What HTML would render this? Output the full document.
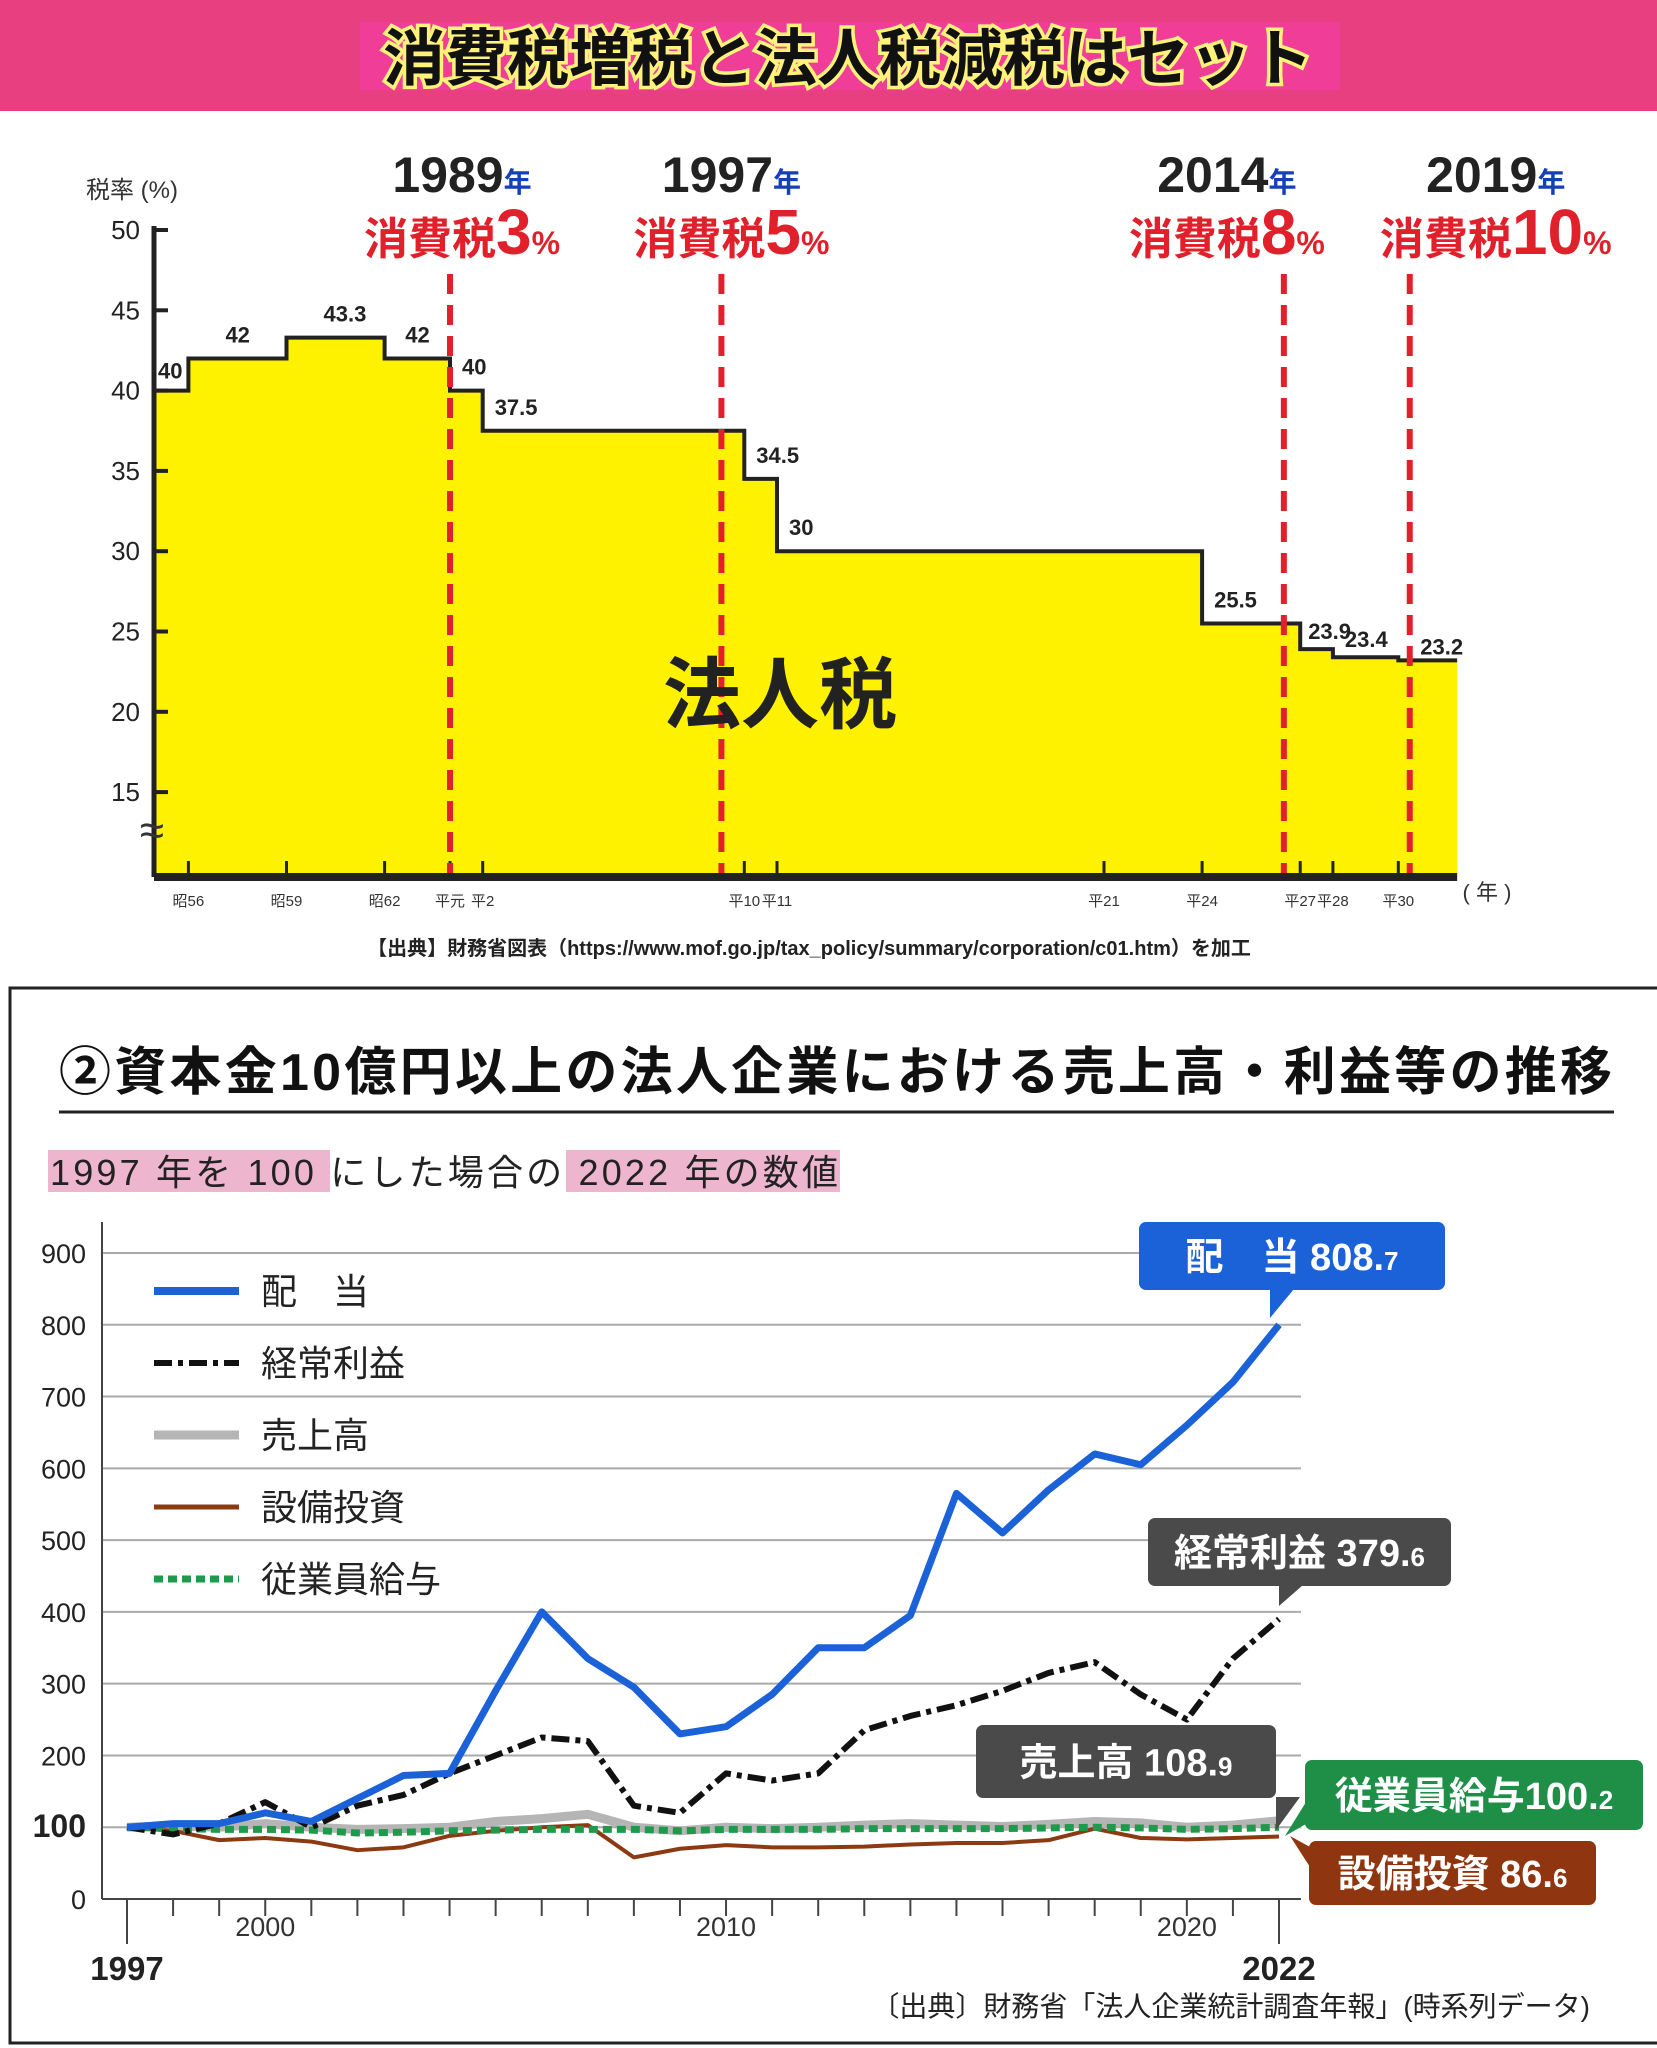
<!DOCTYPE html>
<html><head><meta charset="utf-8"><style>
body{margin:0;background:#fff;}
svg{display:block;font-family:"Liberation Sans","Noto Sans CJK JP",sans-serif;}
</style></head><body>
<svg id="s" width="1657" height="2048" viewBox="0 0 1657 2048">
<rect x="0" y="0" width="1657" height="111" fill="#e83f80"/>
<rect x="360" y="22" width="980" height="68" fill="#f03d97"/>
<text x="848" y="80" text-anchor="middle" font-size="62" font-weight="bold" fill="#111" stroke="#fff27a" stroke-width="7" paint-order="stroke">消費税増税と法人税減税はセット</text>
<g id="topchart"></g>
<text x="809" y="955" text-anchor="middle" font-size="20" font-weight="bold" fill="#222">【出典】財務省図表（https://www.mof.go.jp/tax_policy/summary/corporation/c01.htm）を加工</text>
<rect x="10" y="988" width="1660" height="1055" fill="none" stroke="#222" stroke-width="3"/>
<text x="59" y="1090" font-size="52" font-weight="bold" fill="#111" textLength="1553">②資本金10億円以上の法人企業における売上高・利益等の推移</text>
<line x1="59" y1="1112" x2="1614" y2="1112" stroke="#222" stroke-width="3"/>
<rect x="48" y="1150" width="282" height="42" fill="#eeb5cf"/>
<rect x="566" y="1150" width="274" height="42" fill="#eeb5cf"/>
<text x="50" y="1185" font-size="36" fill="#222" textLength="788">1997 年を 100 にした場合の 2022 年の数値</text>
<g id="botchart"></g>
<text x="1590" y="2016" text-anchor="end" font-size="28" fill="#222">〔出典〕財務省「法人企業統計調査年報」(時系列データ)</text>
</svg>
<script>
// ---- top chart data ----
const stepStarts=[1980,1981,1984,1987,1989,1990,1998,1999,2012,2015,2016,2018];
const stepRates=[40,42,43.3,42,40,37.5,34.5,30,25.5,23.9,23.4,23.2];
const stepEnd=2019.8;
const yTicks=[50,45,40,35,30,25,20,15];
const xTickYears=[1981,1984,1987,1989,1990,1998,1999,2009,2012,2015,2016,2018];
const xTickLabels=["昭56","昭59","昭62","平元","平2","平10","平11","平21","平24","平27","平28","平30"];
const vatYears=[1989,1997.3,2014.5,2018.35];
const vatYearLabels=["1989","1997","2014","2019"];
const vatRates=["3","5","8","10"];
// ---- bottom chart data ----
const years=[1997,1998,1999,2000,2001,2002,2003,2004,2005,2006,2007,2008,2009,2010,2011,2012,2013,2014,2015,2016,2017,2018,2019,2020,2021,2022];
const dividend=[100,105,105,120,108,140,172,175,290,400,335,295,230,240,285,350,350,395,565,510,570,620,605,660,720,800];
const profit=[100,90,105,135,100,130,145,175,200,225,220,130,120,175,165,175,235,255,270,290,315,330,285,250,335,390];
const sales=[100,102,100,105,100,97,98,100,108,112,118,100,95,100,98,100,103,105,103,101,104,108,106,100,103,109];
const capex=[100,95,82,85,80,68,72,88,95,100,103,58,70,75,72,72,73,76,78,78,82,98,85,83,85,87];
const salary=[100,98,97,97,96,92,93,95,96,97,97,97,95,97,97,97,98,98,98,98,99,100,99,97,98,100];
const bTicks=[0,100,200,300,400,500,600,700,800,900];
const NS="http://www.w3.org/2000/svg";
function mk(p,t,a,txt){const e=document.createElementNS(NS,t);for(const k in a)e.setAttribute(k,a[k]);if(txt!==undefined)e.textContent=txt;p.appendChild(e);return e;}
const X=y=>450+(y-1989)*32.7;
const Y=v=>230+(50-v)*16.06;
const topG=document.getElementById('topchart');
const base=877, x0=154, xEnd=X(stepEnd);
let d=`M${x0},${base}`;
stepStarts.forEach((s,i)=>{const e=i<stepStarts.length-1?stepStarts[i+1]:stepEnd;const xs=i==0?x0:X(s);d+=` L${xs},${Y(stepRates[i])} L${X(e)},${Y(stepRates[i])}`;});
d+=` L${xEnd},${base} Z`;
let a=mk(topG,'path',{d:d,fill:'#fff200'});


let ol='';stepStarts.forEach((s,i)=>{const e=i<stepStarts.length-1?stepStarts[i+1]:stepEnd;const xs=i==0?x0:X(s);ol+=(i==0?'M':' L')+`${xs},${Y(stepRates[i])} L${X(e)},${Y(stepRates[i])}`;});
a=mk(topG,'path',{d:ol,fill:'none',stroke:'#222','stroke-width':4});


stepStarts.forEach((s,i)=>{const e=i<stepStarts.length-1?stepStarts[i+1]:stepEnd;const xs=i==0?x0:X(s);
 let lx=i==0?xs+4:(i>=4?xs+12:(xs+X(e))/2-12), ly=Y(stepRates[i])-(i==0?12:16);
 if(i==9){lx=xs+8;ly=Y(stepRates[i])-10;}
 if(i==10){lx=xs+12;ly=Y(stepRates[i])-10;}
 if(i==11){lx=xs+22;ly=Y(stepRates[i])-6;}
 const t=mk(topG,'text',{x:lx,y:ly,'font-size':22,'font-weight':'bold',fill:'#222'},String(stepRates[i]));
 
 });
a=mk(topG,'line',{x1:x0,y1:226,x2:x0,y2:base,stroke:'#222','stroke-width':5});


a=mk(topG,'line',{x1:x0,y1:base,x2:xEnd,y2:base,stroke:'#222','stroke-width':8});


yTicks.forEach(v=>{mk(topG,'line',{x1:x0,y1:Y(v),x2:x0+14,y2:Y(v),stroke:'#222','stroke-width':4});
 const t=mk(topG,'text',{x:140,y:Y(v)+9,'text-anchor':'end','font-size':26,fill:'#222'},String(v));
 
 });
a=mk(topG,'text',{x:132,y:198,'text-anchor':'middle','font-size':24,fill:'#333'},'税率 (%)');


a=mk(topG,'text',{x:152,y:845,'text-anchor':'middle','font-size':44,fill:'#333'},'≈');


xTickYears.forEach((yr,i)=>{mk(topG,'line',{x1:X(yr),y1:base,x2:X(yr),y2:base-16,stroke:'#222','stroke-width':3});
 const t=mk(topG,'text',{x:X(yr),y:906,'text-anchor':'middle','font-size':15,fill:'#333'},xTickLabels[i]);
 
 });
a=mk(topG,'text',{x:1487,y:900,'text-anchor':'middle','font-size':22,fill:'#333'},'( 年 )');


const labelShift=[12,10,-57,86];
vatYears.forEach((yr,i)=>{const x=X(yr);const cx=x+labelShift[i];
 const l=mk(topG,'line',{x1:x,y1:274,x2:x,y2:base-4,stroke:'#e0202a','stroke-width':6,'stroke-dasharray':'20,11'});
 
 
 const g=mk(topG,'text',{x:cx,y:192,'text-anchor':'middle','font-size':50,'font-weight':'bold',fill:'#222'});
 
 
 mk(g,'tspan',{},vatYearLabels[i]);mk(g,'tspan',{'font-size':28,fill:'#1640b8'},'年');
 const h=mk(topG,'text',{x:cx,y:254,'text-anchor':'middle','font-size':44,'font-weight':'bold',fill:'#e0202a'});
 
 
 mk(h,'tspan',{},'消費税');mk(h,'tspan',{'font-size':64},vatRates[i]);mk(h,'tspan',{'font-size':32},'%');});
a=mk(topG,'text',{x:780,y:722,'text-anchor':'middle','font-size':78,'font-weight':'bold',fill:'#222'},'法人税');


// bottom chart
const botG=document.getElementById('botchart');
const BX=y=>127+(y-1997)*46.08;
const BY=v=>1899-v*0.7178;
bTicks.forEach(v=>{if(v>0){const l=mk(botG,'line',{x1:102,y1:BY(v),x2:1301,y2:BY(v),stroke:'#aaa','stroke-width':2});}
 const t=mk(botG,'text',{x:86,y:BY(v)+10,'text-anchor':'end','font-size':v==100?32:27,'font-weight':v==100?'bold':'normal',fill:'#222'},String(v));
 
 });
a=mk(botG,'line',{x1:102,y1:1222,x2:102,y2:1899,stroke:'#444','stroke-width':2});


a=mk(botG,'line',{x1:102,y1:1899,x2:1301,y2:1899,stroke:'#444','stroke-width':2});


years.forEach(y=>{const long=(y==1997||y==2022);mk(botG,'line',{x1:BX(y),y1:1899,x2:BX(y),y2:long?1944:1916,stroke:'#444','stroke-width':2});});
[2000,2010,2020].forEach(y=>{const t=mk(botG,'text',{x:BX(y),y:1936,'text-anchor':'middle','font-size':27,fill:'#333'},String(y));});
[1997,2022].forEach(y=>{const t=mk(botG,'text',{x:BX(y),y:1980,'text-anchor':'middle','font-size':33,'font-weight':'bold',fill:'#222'},String(y));});
function series(vals,st,name){const p=vals.map((v,i)=>(i?'L':'M')+BX(years[i])+','+BY(v)).join(' ');const e=mk(botG,'path',Object.assign({d:p,fill:'none','stroke-linejoin':'round'},st));}
series(sales,{stroke:'#b5b5b5','stroke-width':9},'sales-line');
series(capex,{stroke:'#8b3a12','stroke-width':4},'capex-line');
series(salary,{stroke:'#1f9a4c','stroke-width':7,'stroke-dasharray':'9,5'},'salary-line');
series(profit,{stroke:'#111','stroke-width':6,'stroke-dasharray':'18,6,5,6'},'profit-line');
series(dividend,{stroke:'#1b62d8','stroke-width':7},'dividend-line');
const legS=[{stroke:'#1b62d8','stroke-width':8},{stroke:'#111','stroke-width':6,'stroke-dasharray':'18,6,5,6'},{stroke:'#b5b5b5','stroke-width':9},{stroke:'#8b3a12','stroke-width':5},{stroke:'#1f9a4c','stroke-width':7,'stroke-dasharray':'9,5'}];
const legN=['配　当','経常利益','売上高','設備投資','従業員給与'];
legN.forEach((n,i)=>{const y=1291+i*72;mk(botG,'line',Object.assign({x1:154,y1:y,x2:239,y2:y},legS[i]));
 const t=mk(botG,'text',{x:261,y:y+13,'font-size':36,fill:'#222'},n);});
function callout(x,y,w,h,fill,txt,small,px,py,side,name){
 const g=mk(botG,'g',{});
 
 
 mk(g,'rect',{x:x,y:y,width:w,height:h,rx:7,fill:fill});
 if(side=='down')mk(g,'polygon',{points:`${px-6},${y+h-1} ${px+18},${y+h-1} ${px-6},${py}`,fill:fill});
 else if(side=='left')mk(g,'polygon',{points:`${x+1},${y+h-28} ${x+1},${y+h-6} ${px},${py}`,fill:fill});
 else mk(g,'polygon',{points:`${x+1},${y+6} ${x+1},${y+26} ${px},${py}`,fill:fill});
 const t=mk(g,'text',{x:x+w/2,y:y+h/2+14,'text-anchor':'middle','font-size':38,'font-weight':'bold',fill:'#fff'});
 mk(t,'tspan',{},txt);mk(t,'tspan',{'font-size':26},small);}
callout(1139,1222,306,68,'#1b62d8','配　当 808.','7',1276,1318,'down','dividend-callout');
callout(1148,1518,303,68,'#4a4a4a','経常利益 379.','6',1285,1606,'down','profit-callout');
callout(976,1725,300,73,'#4a4a4a','売上高 108.','9',1282,1830,'down','sales-callout');
callout(1305,1760,338,70,'#1f8f48','従業員給与100.','2',1285,1836,'left','salary-callout');
callout(1309,1841,287,64,'#8f3510','設備投資 86.','6',1290,1836,'up','capex-callout');
</script>
</body></html>
